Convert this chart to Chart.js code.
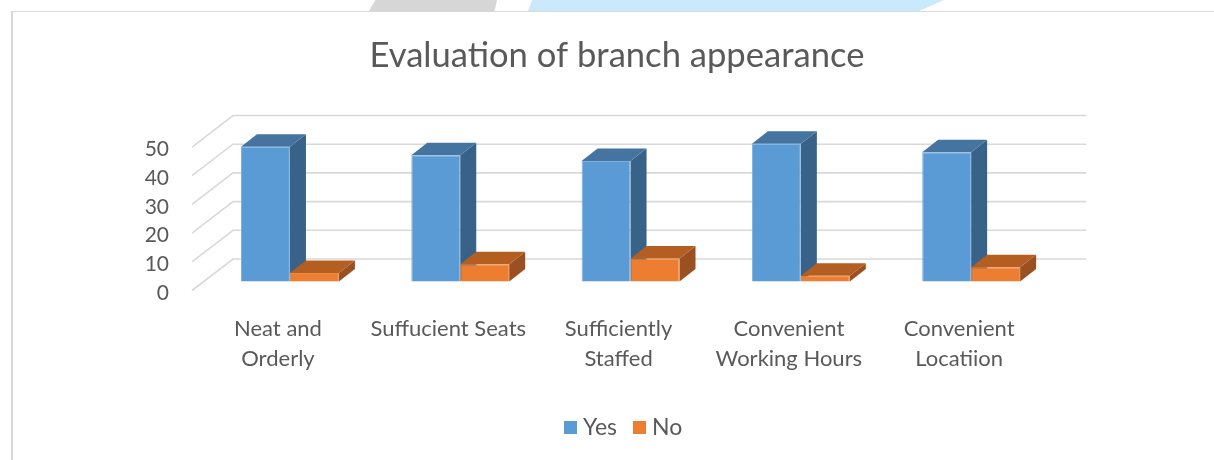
<!DOCTYPE html>
<html><head><meta charset="utf-8">
<style>
html,body{margin:0;padding:0;background:#fff;width:1214px;height:460px;overflow:hidden}
#wrap{position:relative;width:1214px;height:460px}
#frame{position:absolute;left:11px;top:11px;right:0;bottom:0;border-left:2px solid #d9d9d9;border-top:1px solid #d9d9d9}
#g{position:absolute;left:369px;top:0;width:128px;height:11px;background:#d6d6d6;clip-path:polygon(0 100%,5% 0,100% 0,98% 100%)}
#b{position:absolute;left:528px;top:0;width:416px;height:11px;background:#cbe9fc;clip-path:polygon(0 100%,1% 0,100% 0,94% 100%)}
canvas{position:absolute;left:0;top:0}
</style></head><body>
<div id="wrap"><div id="g"></div><div id="b"></div><div id="frame"></div><canvas id="c" width="1214" height="460"></canvas></div>
<script src="https://cdn.jsdelivr.net/npm/chart.js@4/dist/chart.umd.js"></script>
<script>
const categories=[["Neat and","Orderly"],"Suffucient Seats",["Sufficiently","Staffed"],["Convenient","Working Hours"],["Convenient","Locatiion"]];
const yesValues=[47,44,42,48,45];
const noValues=[3,6,8,2,5];
const seriesNames=["Yes","No"];
const FONT="Lato, Carlito, sans-serif", TEXT="#595959";
const frontColors=["#5b9bd5","#ed7d31"];
const faces=[{top:"#44749f",side:"#386288"},{top:"#b55e21",side:"#9a5020"}];
function swatch(color){
  const c=document.createElement("canvas");c.width=13;c.height=13;
  const x=c.getContext("2d");x.fillStyle=color;x.fillRect(0,0,13,13);return c;
}
const swatches=frontColors.map(swatch);
const depth3d={
  id:"depth3d",
  afterLayout(chart){
    chart.titleBlock.left+=23.8;chart.titleBlock.right+=23.8;
    chart.legend.left+=32.8;chart.legend.right+=32.8;
  },
  beforeDatasetsDraw(chart){
    const {ctx,chartArea:a,scales:{y}}=chart;
    ctx.save();ctx.strokeStyle="#d9d9d9";ctx.lineWidth=1.6;
    y.ticks.forEach(t=>{
      const p=y.getPixelForValue(t.value);
      ctx.beginPath();ctx.moveTo(a.left-12.8,p+9);ctx.lineTo(a.left+28.2,p-22.5);ctx.lineTo(a.right+30,p-22.5);ctx.stroke();
    });
    const dx=16,dy=12.5;
    chart.data.datasets.forEach((d,i)=>{
      chart.getDatasetMeta(i).data.forEach(b=>{
        const l=b.x-b.width/2,r=b.x+b.width/2,t=b.y,bs=b.base;
        ctx.fillStyle=faces[i].side;
        ctx.beginPath();ctx.moveTo(r,t);ctx.lineTo(r+dx,t-dy);ctx.lineTo(r+dx,bs-dy);ctx.lineTo(r,bs);ctx.closePath();ctx.fill();
        ctx.fillStyle=faces[i].top;
        ctx.beginPath();ctx.moveTo(l,t);ctx.lineTo(l+dx,t-dy);ctx.lineTo(r+dx,t-dy);ctx.lineTo(r,t);ctx.closePath();ctx.fill();
      });
    });
    ctx.restore();
  }
};
new Chart(document.getElementById("c"),{
  type:"bar",
  data:{labels:categories,datasets:[
    {label:seriesNames[0],data:yesValues,backgroundColor:frontColors[0],borderColor:"#7fb2e0",borderWidth:1,clip:false},
    {label:seriesNames[1],data:noValues,backgroundColor:frontColors[1],borderColor:"#ef8a45",borderWidth:1,clip:false}
  ]},
  options:{
    responsive:false,animation:false,
    layout:{padding:{left:130,right:157.7,top:0,bottom:11}},
    datasets:{bar:{barPercentage:1,categoryPercentage:0.575}},
    plugins:{
      tooltip:{enabled:false},
      title:{display:true,text:"Evaluation of branch appearance",color:TEXT,font:{family:FONT,size:34.6,weight:"normal"},padding:{top:35,bottom:61.5}},
      legend:{position:"bottom",labels:{usePointStyle:true,pointStyleWidth:2,boxHeight:13,color:TEXT,font:{family:FONT,size:23},padding:21.5,
        generateLabels(chart){
          const items=Chart.defaults.plugins.legend.labels.generateLabels(chart);
          items.forEach((it,i)=>{it.pointStyle=swatches[i];});
          return items;
        }}}
    },
    scales:{
      x:{grid:{display:false},border:{display:false},afterFit(s){s.height=113},ticks:{color:TEXT,font:{family:FONT,size:22,lineHeight:1.36},labelOffset:-12,maxRotation:0,minRotation:0,autoSkip:false,padding:24.5}},
      y:{min:0,max:50,grid:{display:false},border:{display:false},afterFit(s){s.width=74.8},ticks:{stepSize:10,color:TEXT,font:{family:FONT,size:21},labelOffset:11.5,padding:27.8}}
    }
  },
  plugins:[depth3d]
});
</script></body></html>
